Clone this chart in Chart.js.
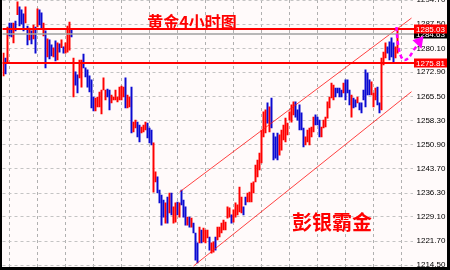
<!DOCTYPE html>
<html>
<head>
<meta charset="utf-8">
<script src="https://cdn.jsdelivr.net/npm/chart.js@4.4.0/dist/chart.umd.min.js"></script>
<style>
  html, body { margin: 0; padding: 0; background: #000; }
  #chart { display: block; }
</style>
</head>
<body>
<canvas id="chart" width="450" height="270"></canvas>
<script>
// 4H gold bars, oldest first
const highs = [
  1278.7, 1277.2, 1286.6, 1287.8, 1287.8, 1287.8, 1288.4, 1294.2, 1292.7, 1291.8,
  1290.6, 1292.7, 1286.9, 1286.3, 1285.4, 1287.2, 1286.6, 1292.1, 1291.8, 1290.9,
  1287.8, 1285.4, 1283.0, 1282.7, 1281.2, 1280.3, 1282.4, 1281.8, 1281.5, 1282.7,
  1280.6, 1281.8, 1286.9, 1288.1, 1285.7,
  1277.2, 1273.0, 1272.1, 1276.6, 1276.6, 1278.4, 1274.2, 1273.6, 1271.8, 1270.6,
  1265.4, 1265.1, 1265.4, 1266.9, 1267.5, 1271.2, 1267.5, 1267.8, 1267.5, 1266.0,
  1265.4, 1267.5, 1265.4, 1268.4, 1268.7, 1268.4, 1271.2, 1266.0, 1265.4, 1268.4,
  1257.8, 1258.4, 1257.8, 1256.9, 1256.3, 1256.9, 1257.8, 1257.5, 1256.0, 1255.4,
  1251.5, 1242.7, 1241.2, 1237.2, 1235.7, 1234.2, 1233.3, 1235.1, 1236.3, 1236.3,
  1232.1, 1233.3, 1233.6, 1233.3, 1237.2, 1234.2, 1232.1, 1229.0, 1229.0, 1228.7,
  1227.2, 1224.2, 1221.2, 1226.0, 1225.1, 1225.7, 1225.1, 1225.1, 1223.0, 1221.2,
  1221.5, 1223.0, 1226.0, 1226.0, 1227.2, 1228.1, 1227.5, 1232.1, 1231.8, 1229.7,
  1231.2, 1233.3, 1232.7, 1238.1, 1235.1, 1232.1, 1235.1, 1236.3, 1236.6, 1239.3,
  1239.7, 1244.8, 1246.3, 1248.4,
  1255.4, 1260.9, 1261.5, 1263.6, 1262.4, 1265.1, 1254.5, 1253.3, 1254.5, 1253.9,
  1255.4, 1256.9, 1259.0, 1257.5, 1260.9, 1263.0, 1263.9, 1263.9, 1261.5, 1263.0,
  1260.6, 1256.0, 1253.3, 1255.4, 1256.0, 1256.3, 1259.3, 1260.0, 1259.3, 1258.4,
  1256.3, 1258.4, 1259.3, 1263.9, 1265.4, 1269.6, 1269.0, 1268.1, 1268.1, 1268.1,
  1267.5, 1269.6, 1270.6, 1270.6, 1267.5, 1266.0, 1265.1, 1264.5, 1265.4, 1263.6,
  1263.6, 1267.5, 1273.6, 1272.7, 1270.6, 1270.0, 1266.6, 1268.1, 1268.4, 1263.6,
  1277.2, 1279.0, 1281.8, 1280.6, 1282.1, 1283.3, 1281.8, 1280.6, 1285.7
];
const lows = [
  1271.8, 1272.4, 1276.0, 1283.9, 1283.6, 1281.8, 1285.4, 1290.3, 1286.9, 1287.5,
  1285.4, 1287.8, 1281.2, 1282.7, 1281.5, 1283.0, 1278.7, 1286.6, 1287.2, 1286.0,
  1283.9, 1274.2, 1277.5, 1276.9, 1277.8, 1277.5, 1276.3, 1276.6, 1279.0, 1280.3,
  1278.7, 1278.7, 1279.0, 1279.6, 1283.6,
  1265.4, 1269.0, 1266.6, 1271.2, 1268.4, 1274.2, 1271.5, 1268.4, 1266.9, 1262.1,
  1261.2, 1261.2, 1262.4, 1262.4, 1260.3, 1267.5, 1264.5, 1265.4, 1261.5, 1263.6,
  1264.5, 1264.5, 1263.9, 1264.5, 1264.5, 1265.4, 1262.1, 1262.1, 1262.4, 1254.5,
  1254.8, 1256.0, 1253.3, 1251.8, 1254.5, 1254.8, 1255.4, 1253.0, 1251.5, 1250.9,
  1236.6, 1239.7, 1236.3, 1233.3, 1226.6, 1229.0, 1227.2, 1227.2, 1230.3, 1229.7,
  1227.2, 1227.5, 1229.7, 1229.0, 1232.7, 1229.0, 1226.6, 1226.6, 1226.0, 1226.0,
  1224.2, 1216.0, 1215.1, 1221.2, 1221.2, 1221.5, 1221.2, 1222.7, 1219.0, 1218.1,
  1218.4, 1219.0, 1222.1, 1223.0, 1224.2, 1225.1, 1225.1, 1228.7, 1229.0, 1227.2,
  1227.5, 1229.0, 1229.7, 1230.6, 1230.3, 1229.7, 1232.7, 1233.6, 1233.6, 1233.6,
  1236.3, 1239.7, 1241.2, 1243.3,
  1245.4, 1253.3, 1254.5, 1257.5, 1254.8, 1256.0, 1246.3, 1246.9, 1246.3, 1247.8,
  1249.3, 1252.4, 1251.8, 1253.9, 1258.4, 1257.8, 1260.0, 1259.3, 1258.4, 1255.4,
  1255.4, 1250.3, 1250.9, 1251.8, 1250.9, 1253.3, 1254.8, 1256.9, 1256.9, 1253.3,
  1253.3, 1256.0, 1256.3, 1259.0, 1262.1, 1265.1, 1264.5, 1265.4, 1266.6, 1265.4,
  1265.4, 1266.6, 1264.5, 1266.6, 1263.0, 1259.3, 1262.1, 1262.4, 1263.6, 1261.5,
  1260.6, 1264.5, 1262.4, 1266.0, 1266.0, 1266.0, 1262.4, 1264.5, 1263.0, 1260.6,
  1261.5, 1275.1, 1277.2, 1278.7, 1276.6, 1277.5, 1275.7, 1277.2, 1278.7
];
// u = closed up (red), d = closed down (blue)
const dirs = [
  'ududd', 'ududd', 'dudud', 'ududd', 'ududd', 'ududu', 'duuud',
  'udduu', 'ddddd', 'duuuu', 'uuddu', 'uuuuu', 'uduud',
  'uuddu', 'uuddd', 'uuddd', 'dudud', 'uudud', 'ddudu', 'dddud', 'uuudu', 'uduuu', 'uuuud', 'uuuuu', 'dduuu', 'uuuu',
  'uuudu', 'ddddu', 'uuuuu', 'uuddd', 'dduuu', 'uuddd', 'uuuuu', 'uuddd', 'duddd', 'uddud', 'ddddd', 'uuudd',
  'uuudd', 'dduu'
].join('').split('');

// bar slots incl. the empty shift area on the right
const slotCount = 205;
const labels = Array.from({ length: slotCount }, (_, i) => i);

const priceTicks = [1214.5, 1221.7, 1229.1, 1236.3, 1243.7, 1250.9, 1258.3, 1265.5, 1272.9, 1280.1, 1287.5, 1294.7];

// trend channel: [slot, price]
const upperChannel = [[88, 1236.6], [204, 1289.3]];
const lowerChannel = [[95, 1214.2], [204, 1267.0]];

// horizontal price lines
const levels = [1284.5, 1286.0, 1275.81];
const levelLabels = ['1284.63', '1285.03', '1275.81'];
const levelColors = ['#000000', '#ff0000', '#ff0000'];

// magenta hand drawn arrow, [slot, price]
const arrowPath = [[196.5, 1286.6], [197.5, 1274.8], [201, 1274.8], [205, 1279.6], [207, 1281.1], [208.5, 1282.4]];
const arrowHead = [[210, 1283.9], [204.5, 1282.6], [209, 1280.0]];

function channelData(pts) {
  const d = labels.map(() => null);
  pts.forEach(p => { d[p[0]] = p[1]; });
  return d;
}

const decor = {
  id: 'decor',
  beforeDraw(chart) {
    const ctx = chart.ctx;
    ctx.save();
    ctx.fillStyle = '#fffafa';
    ctx.fillRect(0, 0, 450, 270);
    ctx.fillStyle = '#000';
    ctx.fillRect(0, 0, 2, 270);
    ctx.fillRect(0, 267, 450, 3);
    ctx.fillRect(447, 0, 3, 270);
    ctx.restore();
  },
  afterDatasetsDraw(chart) {
    const ctx = chart.ctx;
    const x = chart.scales.x;
    const y = chart.scales.y;
    const left = chart.chartArea.left;
    ctx.save();

    levels.forEach((lv, i) => {
      const py = Math.round(y.getPixelForValue(lv));
      ctx.strokeStyle = i === 0 ? '#a0a0a0' : levelColors[i];
      ctx.lineWidth = i === 0 ? 1.5 : 2;
      ctx.beginPath();
      ctx.moveTo(left, py);
      ctx.lineTo(414, py);
      ctx.stroke();
      ctx.fillStyle = levelColors[i];
      ctx.fillRect(414, py - 4.5, 33, 9);
      ctx.fillStyle = '#fff';
      ctx.font = '8px "Liberation Sans"';
      ctx.textBaseline = 'middle';
      ctx.textAlign = 'left';
      ctx.fillText(levelLabels[i], 416, py + 0.5);
    });

    ctx.fillStyle = '#ff0000';
    ctx.textAlign = 'center';
    ctx.textBaseline = 'middle';
    ctx.font = 'bold 16px "Noto Sans CJK SC"';
    ctx.fillText('黄金4小时图', 192, 22);
    ctx.font = 'bold 20px "Noto Sans CJK SC"';
    ctx.fillText('彭银霸金', 332, 222);

    const px = p => [x.getPixelForValue(p[0]), y.getPixelForValue(p[1])];
    const a = arrowPath.map(px);
    ctx.strokeStyle = '#ff00ff';
    ctx.lineWidth = 2.5;
    ctx.setLineDash([4, 3]);
    ctx.beginPath();
    ctx.moveTo(a[0][0], a[0][1]);
    ctx.bezierCurveTo(a[1][0], a[1][1], a[2][0], a[2][1], a[3][0], a[3][1]);
    ctx.quadraticCurveTo(a[4][0], a[4][1], a[5][0], a[5][1]);
    ctx.stroke();
    ctx.setLineDash([]);
    const h = arrowHead.map(px);
    ctx.fillStyle = '#ff00ff';
    ctx.beginPath();
    ctx.moveTo(h[0][0], h[0][1]);
    ctx.lineTo(h[1][0], h[1][1]);
    ctx.lineTo(h[2][0], h[2][1]);
    ctx.closePath();
    ctx.fill();
    ctx.restore();
  }
};

new Chart(document.getElementById('chart'), {
  type: 'bar',
  data: {
    labels: labels,
    datasets: [{
      type: 'bar',
      data: lows.map((lo, i) => [lo, highs[i]]),
      backgroundColor: dirs.map(d => (d === 'u' ? '#ff0000' : '#0a0ad2')),
      borderWidth: 0,
      barThickness: 1.3,
      order: 2
    }, {
      type: 'line',
      data: channelData(upperChannel),
      borderColor: 'rgba(255,20,20,0.8)',
      borderWidth: 1,
      pointRadius: 0,
      spanGaps: true,
      order: 1
    }, {
      type: 'line',
      data: channelData(lowerChannel),
      borderColor: 'rgba(255,20,20,0.8)',
      borderWidth: 1,
      pointRadius: 0,
      spanGaps: true,
      order: 1
    }]
  },
  options: {
    responsive: false,
    animation: false,
    events: [],
    layout: { padding: { left: 2.5, right: 0, top: 0, bottom: 3 } },
    plugins: { legend: { display: false }, tooltip: { enabled: false } },
    scales: {
      x: {
        offset: true,
        ticks: { display: false, autoSkip: false },
        grid: {
          offset: false,
          drawTicks: false,
          color: c => (c.index % 14 === 3 ? '#b0b0b0' : 'rgba(0,0,0,0)')
        },
        border: { display: false, dash: [3, 3] },
        afterFit: s => { s.height = 0; s.paddingLeft = 0; s.paddingRight = 0; }
      },
      y: {
        position: 'right',
        min: 1213.9,
        max: 1294.77,
        afterBuildTicks: s => { s.ticks = priceTicks.map(v => ({ value: v })); },
        afterFit: s => { s.width = 37.5; s.paddingTop = 0; s.paddingBottom = 0; },
        ticks: {
          padding: 4,
          color: '#000',
          font: { family: 'Liberation Sans', size: 8 },
          callback: v => v.toFixed(2)
        },
        grid: { color: '#c4c4c4', drawTicks: false },
        border: { display: false, dash: [3, 3] }
      }
    }
  },
  plugins: [decor]
});
</script>
</body>
</html>
